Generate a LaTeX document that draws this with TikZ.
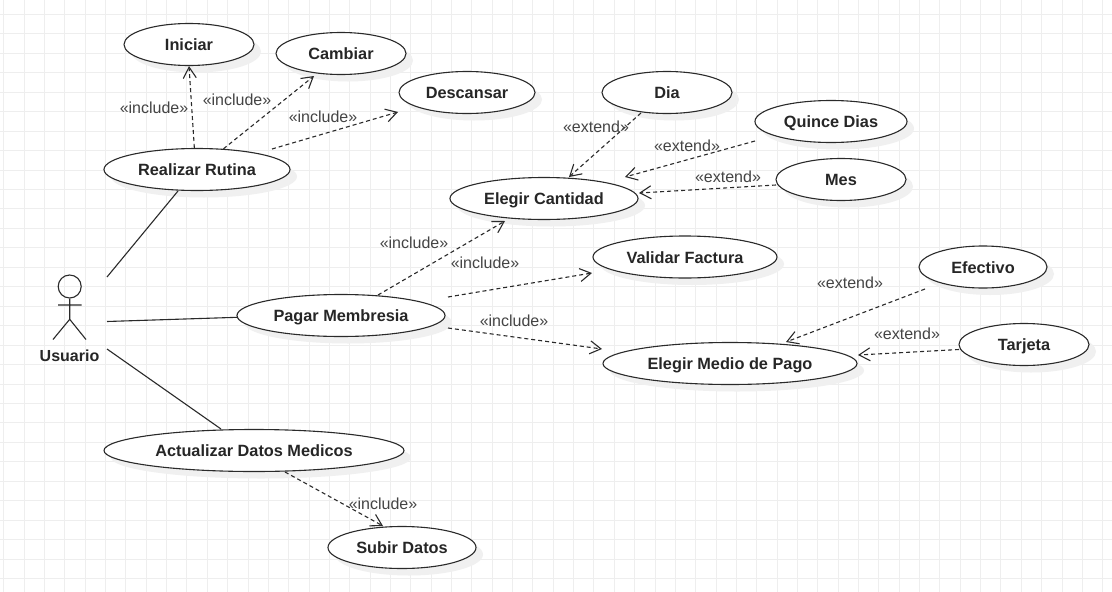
\documentclass[tikz,border=0pt]{standalone}
\usepackage{fontspec}
\setmainfont{Liberation Sans}
\usetikzlibrary{shapes.geometric,arrows.meta,shadows}
\definecolor{gridc}{HTML}{EEEEEE}
\definecolor{linec}{HTML}{2A2A2A}
\definecolor{labc}{HTML}{444444}
\tikzset{
  uc/.style={ellipse,draw=linec,line width=1.1pt,fill=white,inner sep=0pt,minimum height=42pt,
    font=\fontsize{16.3}{18}\selectfont\bfseries,text=black!85,text height=15pt,text depth=3pt,
    copy shadow={shadow xshift=7pt,shadow yshift=-7pt,draw=none,fill=black!6}},
  dep/.style={draw=linec,line width=1.1pt,dash pattern=on 4pt off 3pt,-{Straight Barb[length=11pt,width=13pt,line width=1.1pt]}},
  assoc/.style={draw=linec,line width=1.1pt},
  lab/.style={font=\fontsize{16}{18}\selectfont,text=labc,inner sep=0pt}
}
\begin{document}
\begin{tikzpicture}[x=1pt,y=-1pt]
\useasboundingbox (0,0) rectangle (1112,592);
\fill[white] (0,0) rectangle (1112,592);
\foreach \i in {0,...,54} {\pgfmathsetmacro{\gx}{round(3.3+20.35*\i)+0.5}\draw[gridc,line width=1pt] (\gx,0) -- (\gx,592);}
\foreach \i in {0,...,30} {\pgfmathsetmacro{\gy}{round(14+19.45*\i)+0.5}\draw[gridc,line width=1pt] (0,\gy) -- (1112,\gy);}

\node[uc,minimum width=130pt] (iniciar) at (189,44.5) {Iniciar};
\node[uc,minimum width=130pt] (cambiar) at (341,53.5) {Cambiar};
\node[uc,minimum width=136pt] (descansar) at (467,92.5) {Descansar};
\node[uc,minimum width=186pt] (realizar) at (197,169.5) {Realizar Rutina};
\node[uc,minimum width=130pt] (dia) at (667,92.5) {Dia};
\node[uc,minimum width=152pt] (quince) at (831,121.5) {Quince Dias};
\node[uc,minimum width=130pt] (mes) at (841,179.5) {Mes};
\node[uc,minimum width=188pt] (cantidad) at (544,198.5) {Elegir Cantidad};
\node[uc,minimum width=184pt] (validar) at (685,257) {Validar Factura};
\node[uc,minimum width=208pt] (pagar) at (341,315.5) {Pagar Membresia};
\node[uc,minimum width=254pt] (medio) at (730,363.5) {Elegir Medio de Pago};
\node[uc,minimum width=128pt] (efectivo) at (983,267) {Efectivo};
\node[uc,minimum width=130pt] (tarjeta) at (1024,344.5) {Tarjeta};
\node[uc,minimum width=300pt] (actualizar) at (254,450.5) {Actualizar Datos Medicos};
\node[uc,minimum width=148pt] (subir) at (402,547.5) {Subir Datos};

% actor
\node[circle,draw=linec,line width=1.1pt,minimum size=23pt,inner sep=0pt] (head) at (69.7,286.5) {};
\coordinate (hip) at (69.7,319.3);
\coordinate (armL) at (58,305);
\coordinate (armR) at (81.5,305);
\coordinate (legL) at (53,339.5);
\coordinate (legR) at (86,339.5);
\draw[assoc] (head.south) -- (hip) (armL) -- (armR) (legL) -- (hip) -- (legR);
\node[font=\fontsize{16}{18}\selectfont\bfseries,text=black!85,inner sep=0pt] (usuario) at (69.5,355.5) {Usuario};

% free ends
\coordinate (a1) at (107,277);
\coordinate (a2) at (107,321.5);
\coordinate (a3) at (107,349);
\coordinate (e1) at (221,429);
\coordinate (e2) at (178,191);
\coordinate (rs) at (272,149);
\coordinate (tc) at (314,76);
\coordinate (td) at (398,112);
\coordinate (di) at (641,113);
\coordinate (tq) at (569,177);
\coordinate (qs) at (755,141);
\coordinate (tqq) at (625,177);
\coordinate (ms) at (776,185);
\coordinate (tm) at (639,193);
\coordinate (p1) at (378,295);
\coordinate (t1) at (505,221);
\coordinate (p2) at (448,297);
\coordinate (t2) at (592,273);
\coordinate (p3) at (448,328);
\coordinate (t3) at (602,349);
\coordinate (es) at (925,289);
\coordinate (t4) at (786,342);
\coordinate (ts) at (959,349.5);
\coordinate (t5) at (858,355);
\coordinate (as) at (285,472);
\coordinate (t6) at (383,526);

\draw[assoc] (a1) -- (e2);
\draw[assoc] (a2) -- (pagar.181.4);
\draw[assoc] (a3) -- (e1);

\draw[dep] (realizar.97) -- (iniciar.south);
\draw[dep] (realizar.38) -- (tc);
\draw[dep] (rs) -- (td);
\draw[dep] (di) -- (tq);
\draw[dep] (qs) -- (tqq);
\draw[dep] (ms) -- (tm);
\draw[dep] (p1) -- (t1);
\draw[dep] (p2) -- (t2);
\draw[dep] (p3) -- (t3);
\draw[dep] (es) -- (t4);
\draw[dep] (ts) -- (t5);
\draw[dep] (as) -- (t6);

\node[lab] (l1) at (154,108) {«include»};
\node[lab] (l2) at (237,99.5) {«include»};
\node[lab] (l3) at (323,116.5) {«include»};
\node[lab] (l4) at (414,242.5) {«include»};
\node[lab] (l5) at (485,262.5) {«include»};
\node[lab] (l6) at (514,320.5) {«include»};
\node[lab] (l7) at (383,503.5) {«include»};
\node[lab] (l8) at (596,126.5) {«extend»};
\node[lab] (l9) at (687,145.5) {«extend»};
\node[lab] (l10) at (728,176.5) {«extend»};
\node[lab] (l11) at (850,282.5) {«extend»};
\node[lab] (l12) at (907,333.5) {«extend»};
\end{tikzpicture}
\end{document}
